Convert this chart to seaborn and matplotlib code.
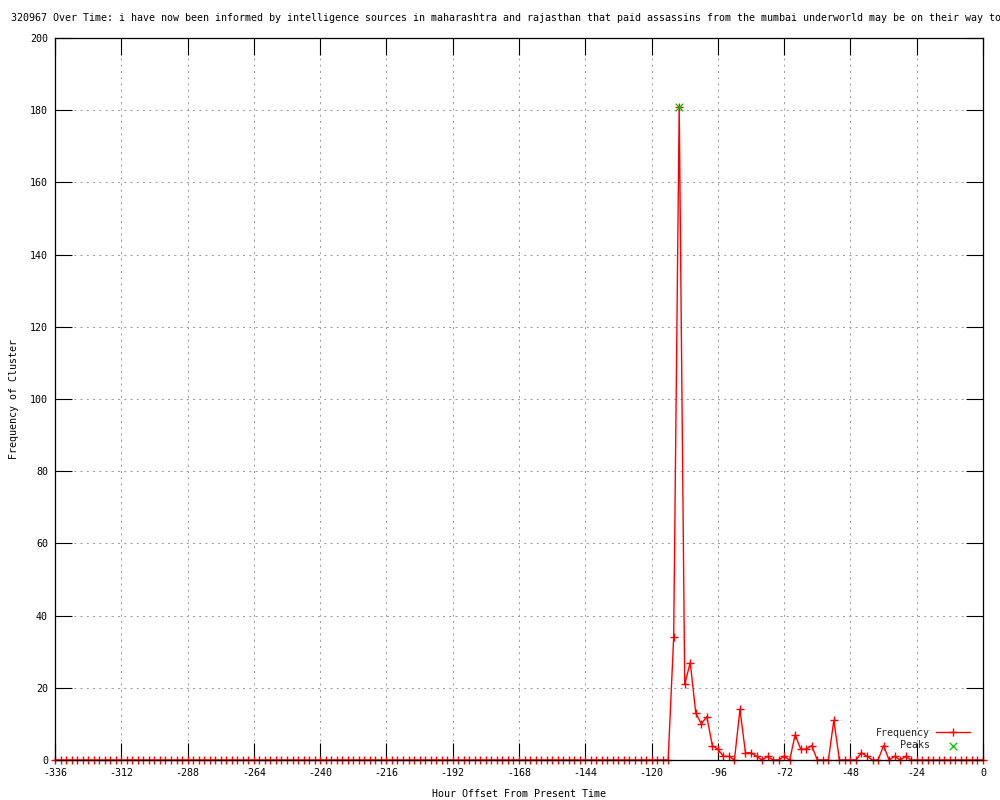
import matplotlib
matplotlib.use("Agg")
import matplotlib.pyplot as plt
import seaborn as sns
import pandas as pd

# ---- data ----
hours = list(range(-336, 1, 2))
frequency = [
    0, 0, 0, 0, 0, 0, 0, 0, 0, 0, 0, 0, 0, 0, 0, 0, 0, 0, 0, 0,
    0, 0, 0, 0, 0, 0, 0, 0, 0, 0, 0, 0, 0, 0, 0, 0, 0, 0, 0, 0,
    0, 0, 0, 0, 0, 0, 0, 0, 0, 0, 0, 0, 0, 0, 0, 0, 0, 0, 0, 0,
    0, 0, 0, 0, 0, 0, 0, 0, 0, 0, 0, 0, 0, 0, 0, 0, 0, 0, 0, 0,
    0, 0, 0, 0, 0, 0, 0, 0, 0, 0, 0, 0, 0, 0, 0, 0, 0, 0, 0, 0,
    0, 0, 0, 0, 0, 0, 0, 0, 0, 0, 0, 0,
    34, 181, 21, 27, 13, 10, 12, 4, 3, 1, 1, 0,
    14, 2, 2, 1, 0, 1, 0, 0, 1, 0,
    7, 3, 3, 4, 0, 0, 0, 11, 0, 0, 0, 0,
    2, 1, 0, 0, 4, 0, 1, 0, 1, 0,
    0, 0, 0, 0, 0, 0, 0, 0, 0, 0, 0, 0, 0,
]
peak_hours = [-110]
peak_values = [181]

title = ("320967 Over Time: i have now been informed by intelligence sources in "
         "maharashtra and rajasthan that paid assassins from the mumbai underworld "
         "may be on their way to")
xlabel = "Hour Offset From Present Time"
ylabel = "Frequency of Cluster"
xticks = list(range(-336, 1, 24))
yticks = list(range(0, 201, 20))

n = min(len(hours), len(frequency))
df = pd.DataFrame({"hour": hours[:n], "freq": frequency[:n]})
peaks = pd.DataFrame({"hour": peak_hours, "freq": peak_values})

sns.set_theme(style="white")
plt.rcParams["font.family"] = ["DejaVu Sans Mono", "DejaVu Sans"]
plt.rcParams["axes.unicode_minus"] = False
FS = 7.2

fig = plt.figure(figsize=(10, 8), dpi=100)
ax = fig.add_axes([0.055, 0.05, 0.928, 0.9025])

sns.lineplot(data=df, x="hour", y="freq", ax=ax, color="#ff0000", linewidth=1.0,
             marker="+", markersize=6.0, markeredgewidth=1.0, markeredgecolor="#ff0000",
             label="Frequency", clip_on=False, zorder=3)
sns.scatterplot(data=peaks, x="hour", y="freq", ax=ax, color="#00c000", marker="x",
                s=30, linewidth=0.9, label="    Peaks", zorder=4)

ax.set_xlim(-336, 0)
ax.set_ylim(0, 200)
ax.set_xticks(xticks)
ax.set_yticks(yticks)
ax.set_xticklabels([str(t) for t in xticks], fontsize=FS, color="black")
ax.set_yticklabels([str(t) for t in yticks], fontsize=FS, color="black")
ax.tick_params(axis="both", which="major", direction="in", length=12, width=0.8,
               color="black", top=True, right=True, bottom=True, left=True)
ax.tick_params(axis="x", pad=6)
ax.tick_params(axis="y", pad=5)

ax.grid(True, color="#a0a0a0", linestyle=(0, (2, 4)), linewidth=0.75)
for s in ax.spines.values():
    s.set_color("black")
    s.set_linewidth(0.9)
    s.set_zorder(5)

ax.set_xlabel(xlabel, fontsize=FS, labelpad=8, color="black")
ax.set_ylabel(ylabel, fontsize=FS, labelpad=8, color="black")

leg = ax.legend(loc="lower right", bbox_to_anchor=(0.99, 0.008), frameon=False,
                markerfirst=False, fontsize=FS, handlelength=3.4, handletextpad=0.6,
                labelspacing=0.25, borderaxespad=0)

fig.text(0.011, 1 - 18 / 800, title, ha="left", va="center", fontsize=FS, color="black")

fig.savefig("out.png", dpi=100, facecolor="white")
